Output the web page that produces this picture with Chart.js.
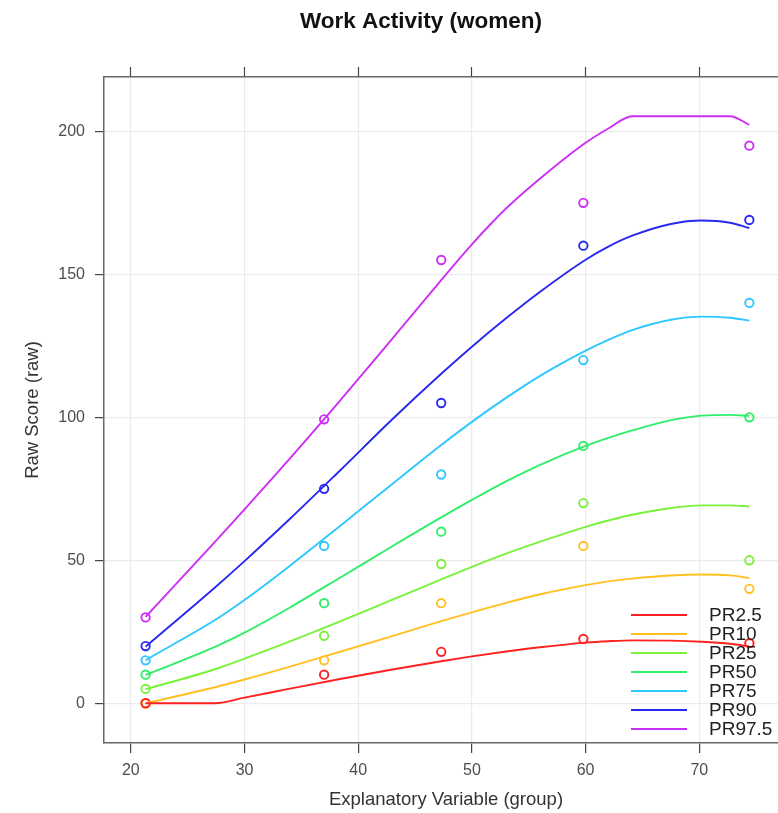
<!DOCTYPE html>
<html>
<head>
<meta charset="utf-8">
<script src="https://cdn.jsdelivr.net/npm/chart.js@4/dist/chart.umd.min.js"></script>
<style>
  html, body { margin: 0; padding: 0; background: #fff; overflow: hidden; }
  #wrap { position: absolute; left: 0; top: 0; width: 843px; height: 813px; }
</style>
</head>
<body>
<div id="wrap"><canvas id="chart" width="843" height="813"></canvas></div>
<script>
const mainTitle = 'Work Activity (women)';
const seriesNames = ['PR2.5', 'PR10', 'PR25', 'PR50', 'PR75', 'PR90', 'PR97.5'];
const seriesColors = ['#FF2020', '#FFC020', '#7AF23A', '#2EEE6A', '#2CC8FF', '#2828F0', '#CC2EF5'];

// observed group values
const groupX = [21.3, 37.0, 47.3, 59.8, 74.4];
const obsPR2_5 = [0, 10, 18, 22.5, 21];
const obsPR10 = [0, 15, 35, 55, 40];
const obsPR25 = [5, 23.6, 48.7, 70, 50];
const obsPR50 = [10, 35, 60, 90, 100];
const obsPR75 = [15, 55, 80, 120, 140];
const obsPR90 = [20, 75, 105, 160, 169];
const obsPR97_5 = [30, 99.3, 155, 175, 195];

// fitted percentile curves
const curveX = [21.3, 27.4, 30, 34, 38.4, 43, 47.3, 50, 53, 56, 60, 62, 64.1, 67.5, 70.2, 72.7, 74.4];
const fitPR2_5 = [0, 0, 1.95, 5.1, 8.5, 11.8, 14.7, 16.4, 18.1, 19.6, 21.2, 21.7, 22.0, 21.9, 21.5, 20.8, 19.9];
const fitPR10 = [0, 5.6, 8.3, 12.8, 18.0, 23.5, 28.7, 31.8, 35.1, 38.1, 41.3, 42.6, 43.6, 44.7, 45.0, 44.7, 43.8];
const fitPR25 = [4.9, 11.9, 15.6, 21.6, 28.6, 36.2, 43.3, 47.7, 52.3, 56.5, 61.7, 63.9, 65.9, 68.3, 69.2, 69.2, 68.8];
const fitPR50 = [9.9, 19.7, 24.7, 33.5, 43.9, 54.9, 65.0, 71.1, 77.6, 83.4, 90.0, 92.8, 95.4, 99.0, 100.6, 100.85, 100.5];
const fitPR75 = [15.1, 29.1, 36.1, 48.1, 62.0, 76.7, 90.3, 98.4, 106.8, 114.5, 123.3, 127.1, 130.5, 134.1, 135.2, 134.8, 133.8];
const fitPR90 = [19.8, 40.5, 49.7, 64.5, 81.4, 99.3, 115.2, 124.7, 134.6, 143.9, 155.1, 159.7, 163.5, 167.6, 168.8, 168.05, 166.2];
const fitPR97_5 = [30.2, 56.4, 67.8, 85.6, 105.8, 127.5, 148, 160.5, 173, 183.5, 196, 201, 205.3, 205.3, 205.3, 205.3, 202.3];

const xTicks = [20, 30, 40, 50, 60, 70];
const yTicks = [0, 50, 100, 150, 200];
const xMin = 17.64, xMax = 77.8;
const yMin = -13.9, yMax = 219;

const observed = [obsPR2_5, obsPR10, obsPR25, obsPR50, obsPR75, obsPR90, obsPR97_5];
const fitted = [fitPR2_5, fitPR10, fitPR25, fitPR50, fitPR75, fitPR90, fitPR97_5];

const FONT = '"Liberation Sans", Arial, sans-serif';

const datasets = [];
seriesNames.forEach((name, i) => {
  datasets.push({
    type: 'line',
    label: name,
    data: curveX.map((x, k) => ({ x: x, y: fitted[i][k] })),
    borderColor: seriesColors[i],
    borderWidth: 1.9,
    pointRadius: 0,
    fill: false,
    cubicInterpolationMode: 'monotone'
  });
});
seriesNames.forEach((name, i) => {
  datasets.push({
    type: 'scatter',
    label: name + ' obs',
    data: groupX.map((x, k) => ({ x: x, y: observed[i][k] })),
    borderColor: seriesColors[i],
    backgroundColor: 'rgba(0,0,0,0)',
    pointRadius: 4.2,
    pointBorderWidth: 1.9,
    showLine: false
  });
});

const titlePlugin = {
  id: 'mainTitle',
  afterDraw(chart) {
    const c = chart.ctx;
    c.save();
    c.font = 'bold 22.5px ' + FONT;
    c.fillStyle = '#111';
    c.textAlign = 'center';
    c.textBaseline = 'middle';
    c.fillText(mainTitle, 421, 22);
    c.restore();
  }
};

// legend drawn inside the plot, bottom right
const legendPlugin = {
  id: 'insideLegend',
  afterDatasetsDraw(chart) {
    const c = chart.ctx;
    c.save();
    c.font = '19px ' + FONT;
    c.textAlign = 'left';
    c.textBaseline = 'middle';
    seriesNames.forEach((name, i) => {
      const y = 615 + i * 19;
      c.strokeStyle = seriesColors[i];
      c.lineWidth = 2;
      c.beginPath();
      c.moveTo(631, y);
      c.lineTo(687, y);
      c.stroke();
      c.fillStyle = '#222';
      c.fillText(name, 709, y + 1);
    });
    c.restore();
  }
};

const setXTicks = s => { s.ticks = xTicks.map(v => ({ value: v })); };

new Chart(document.getElementById('chart').getContext('2d'), {
  type: 'scatter',
  data: { datasets: datasets },
  options: {
    responsive: false,
    animation: false,
    devicePixelRatio: 1,
    layout: { padding: { left: 0, right: 55, top: 44, bottom: 0 } },
    plugins: {
      legend: { display: false },
      tooltip: { enabled: false },
      title: { display: false }
    },
    scales: {
      x: {
        type: 'linear',
        position: 'bottom',
        min: xMin,
        max: xMax,
        afterBuildTicks: setXTicks,
        afterFit: s => { s.height = 70; },
        grid: { color: '#ebebeb', lineWidth: 1.2, tickColor: '#444', tickLength: 10, tickWidth: 1.2 },
        border: { color: '#666', width: 1.5 },
        ticks: { font: { family: FONT, size: 16 }, color: '#4d4d4d', padding: 8, maxRotation: 0 },
        title: {
          display: true,
          text: 'Explanatory Variable (group)',
          font: { family: FONT, size: 18.5 },
          color: '#333',
          padding: { top: 0, bottom: 2 }
        }
      },
      xTop: {
        type: 'linear',
        position: 'top',
        min: xMin,
        max: xMax,
        afterBuildTicks: setXTicks,
        afterFit: s => { s.height = 33; },
        grid: { drawOnChartArea: false, tickColor: '#444', tickLength: 10, tickWidth: 1.2 },
        border: { color: '#666', width: 1.5 },
        ticks: { display: false }
      },
      y: {
        type: 'linear',
        position: 'left',
        min: yMin,
        max: yMax,
        afterBuildTicks: s => { s.ticks = yTicks.map(v => ({ value: v })); },
        afterFit: s => { s.width = 104; },
        grid: { color: '#ebebeb', lineWidth: 1.2, tickColor: '#444', tickLength: 9, tickWidth: 1.2 },
        border: { color: '#666', width: 1.5 },
        ticks: { font: { family: FONT, size: 16 }, color: '#4d4d4d', padding: 10 },
        title: {
          display: true,
          text: 'Raw Score (raw)',
          font: { family: FONT, size: 18.5 },
          color: '#333',
          padding: { top: 22, bottom: 0 }
        }
      }
    }
  },
  plugins: [titlePlugin, legendPlugin]
});
</script>
</body>
</html>
